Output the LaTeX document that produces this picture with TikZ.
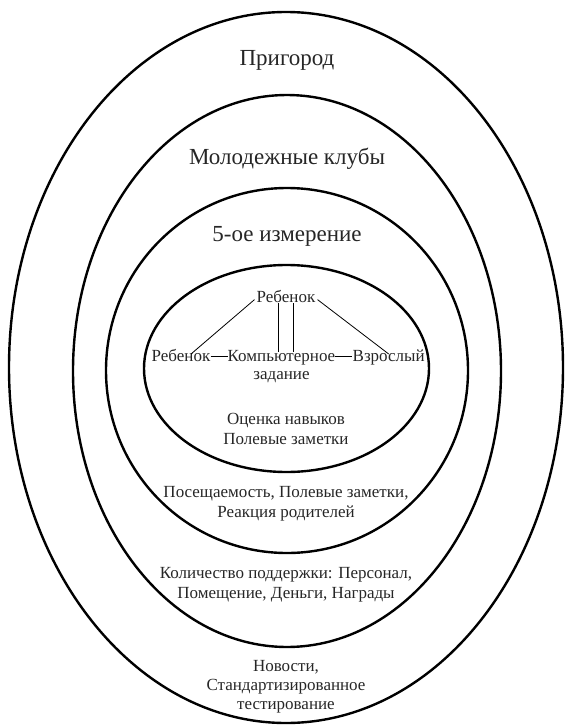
\documentclass[tikz,border=0pt]{standalone}
\usepackage{fontspec}
\setmainfont{Liberation Serif}
\usetikzlibrary{positioning}
\begin{document}
\begin{tikzpicture}[x=1pt,y=-1pt,
  ring/.style={line width=2.4pt},
  txt/.style={text=black!85, inner sep=0pt},
  title/.style={txt, font=\fontsize{23}{27}\selectfont, anchor=base},
  body/.style={txt, font=\fontsize{17}{20}\selectfont, align=center, anchor=base},
  word/.style={txt, font=\fontsize{17}{20}\selectfont, anchor=base, text height=0.68em, text depth=0.2em},
  link/.style={line width=0.8pt}]
\useasboundingbox (0,0) rectangle (565,726);
% rings
\draw[ring] (286,367.5) ellipse [x radius=277pt, y radius=355.5pt];
\draw[ring] (287,371) ellipse [x radius=214pt, y radius=276pt];
\draw[ring] (287,370.5) ellipse [x radius=181pt, y radius=182.5pt];
\draw[ring] (286.5,368.5) ellipse [x radius=142.5pt, y radius=103.5pt];
% titles
\node[title] (suburb) at (287,65) {Пригород};
\node[title] (clubs) at (287,164) {Молодежные клубы};
\node[title] (dim) at (287,241) {5-ое измерение};
% inner graph
\node[word, inner sep=2pt] (c1) at (286,302) {Ребенок};
\node[word] (task) at (281.5,361) {Компьютерное};
\node[word, anchor=base east] (c2) at ([xshift=-17pt]task.base west) {Ребенок};
\node[word, anchor=base west] (adult) at ([xshift=17pt]task.base east) {Взрослый};
\node[body] (task2) at (281.5,379) {задание};
\draw[link] ([yshift=4.6pt]c2.base east) -- ([yshift=4.6pt]task.base west);
\draw[link] ([yshift=4.6pt]task.base east) -- ([yshift=4.6pt]adult.base west);
\draw[link] (c1.west) -- ([xshift=10pt]c2.north);
\draw[link] (c1.east) -- (adult.north);
\draw[link] ([xshift=-8pt,yshift=3pt]c1.south) -- ([xshift=-8pt,yshift=2pt]c1.south |- task.north);
\draw[link] ([xshift=7pt,yshift=3pt]c1.south) -- ([xshift=7pt,yshift=2pt]c1.south |- task.north);
% measures (base anchor = baseline of the last line)
\node[body] (skills) at (286,444) {Оценка навыков\\Полевые заметки};
\node[body] (attend) at (286,517) {Посещаемость, Полевые заметки,\\Реакция родителей};
\node[body] (support) at (286,598) {Количество поддержки: Персонал,\\Помещение, Деньги, Награды};
\node[body, font=\fontsize{17}{19}\selectfont] (news) at (286,709) {Новости,\\Стандартизированное\\тестирование};
\end{tikzpicture}
\end{document}
